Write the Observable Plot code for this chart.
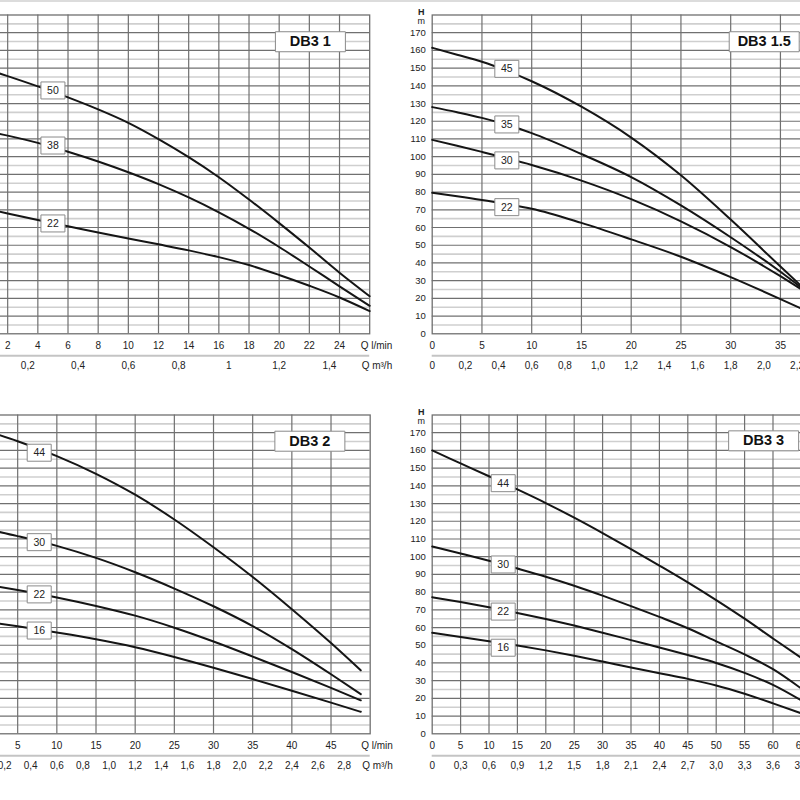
<!DOCTYPE html>
<html><head><meta charset="utf-8">
<script src="https://cdn.jsdelivr.net/npm/d3@7"></script>
<script src="https://cdn.jsdelivr.net/npm/@observablehq/plot@0.6"></script>
<style>
html,body{margin:0;padding:0;background:#fff;}
#page{position:relative;width:800px;height:800px;overflow:hidden;background:#fff;}
.panel{position:absolute;}
#topline{position:absolute;left:0;top:0;width:800px;height:2px;background:#dcdcdc;}
</style></head>
<body><div id="page"><div id="topline"></div></div>
<script>
// ---------- DATA ----------
const hTicks = [0,10,20,30,40,50,60,70,80,90,100,110,120,130,140,150,160,170];

// DB3 1
const db31Q   = [0,2,4,6,8,10,12,14,16,18,20,22,24,26];
const db31H50 = [151,145.5,139.7,133.5,126.7,119.1,109.9,99.7,88.4,75.8,62.5,48.7,34.5,21.2];
const db31H38 = [115.5,111.9,107.8,102.8,97.3,91.2,84.5,77,68.6,59.3,49,38,26.8,15.8];
const db31H22 = [71.7,67.9,64.2,60.7,57.2,53.8,50.5,47.1,43.3,38.8,33.2,27.1,20.5,12.8];
const db31Stages = ["50","38","22"];
const db31LabelQ = 5;
const db31LabelH = [137.4,106.3,62.3];
const db31TicksLmin = [2,4,6,8,10,12,14,16,18,20,22,24];
const db31TicksM3h  = ["0,2","0,4","0,6","0,8","1","1,2","1,4"];

// DB3 1.5
const db315Q   = [0,2.5,5,7.5,10,15,20,25,30,35,37];
const db315H45 = [161.5,157.6,153.6,148.5,142.6,128.2,110.8,89.5,64.5,38,27.5];
const db315H35 = [128,125.1,121.9,118,113.3,101.5,88.5,72.5,54.5,35,26.5];
const db315H30 = [109.5,106.2,102.7,99.1,95.3,86.5,76,63.5,49,32.5,25.5];
const db315H22 = [79.6,77.7,75.6,73.2,70.6,62.6,53.3,43.5,32,19.6,14.5];
const db315Stages = ["45","35","30","22"];
const db315LabelQ = 7.5;
const db315LabelH = [149.6,118.2,97.9,71.5];
const db315TicksLmin = [0,5,10,15,20,25,30,35];
const db315TicksM3h  = ["0","0,2","0,4","0,6","0,8","1,0","1,2","1,4","1,6","1,8","2,0","2,2"];

// DB3 2
const db32Q   = [0,5,10,15,20,25,30,35,40,45,48.8];
const db32H44 = [172.5,165.2,156.8,146.8,135,121,105.3,88.5,70.3,51.2,35.8];
const db32H30 = [116.5,111.6,106.1,99.3,91.2,82,72,60.8,47.8,33.6,22.4];
const db32H22 = [85,81.2,77,72.2,66.7,59.9,52.1,43.6,34.9,25.9,18.9];
const db32H16 = [64,60.7,57.2,53.4,48.9,43.4,37.3,30.9,24.3,17.6,12.4];
const db32Stages = ["44","30","22","16"];
const db32LabelQ = 7.75;
const db32LabelH = [158.7,108.2,78.7,58.3];
const db32TicksLmin = [5,10,15,20,25,30,35,40,45];
const db32TicksM3h  = ["0,2","0,4","0,6","0,8","1,0","1,2","1,4","1,6","1,8","2,0","2,2","2,4","2,6","2,8"];

// DB3 3
const db33Q   = [0,5,10,15,20,25,30,35,40,45,50,55,60,65];
const db33H44 = [160,152.7,145.4,138,130.3,122,113.3,104.3,95,85.5,75.5,65,53.8,42.8];
const db33H30 = [105.8,101.8,97.7,93.3,88.7,83.6,78,72.1,66,59.6,52.2,44.8,36.5,25.5];
const db33H22 = [77.1,74.4,71.4,68.2,64.8,61.1,57.1,52.9,48.7,44.5,40,34.4,27.6,18.8];
const db33H16 = [57,54.7,52.3,49.8,47.1,44.1,40.8,37.4,34.2,31,27.3,22.6,17.2,11.5];
const db33Stages = ["44","30","22","16"];
const db33LabelQ = 12.5;
const db33LabelH = [141.5,95.6,69,48.6];
const db33TicksLmin = [0,5,10,15,20,25,30,35,40,45,50,55,60,65];
const db33TicksM3h  = ["0","0,3","0,6","0,9","1,2","1,5","1,8","2,1","2,4","2,7","3,0","3,3","3,6","3,9"];

// ---------- LAYOUT ----------
const panels = [
  {title:"DB3 1", q:db31Q, curves:[db31H50,db31H38,db31H22], stages:db31Stages, labelQ:db31LabelQ, labelH:db31LabelH,
   lmin:db31TicksLmin, m3h:db31TicksM3h, qMax:26, vStep:2, titleAt:[22.07,164.9], yAxis:false, qTitles:true,
   left:-62.9, top:0, width:472.2, mLeft:40, mRight:40},
  {title:"DB3 1.5", q:db315Q, curves:[db315H45,db315H35,db315H30,db315H22], stages:db315Stages, labelQ:db315LabelQ, labelH:db315LabelH,
   lmin:db315TicksLmin, m3h:db315TicksM3h, qMax:40, vStep:5, titleAt:[33.37,164.9], yAxis:true, qTitles:false,
   left:400, top:0, width:449.7, mLeft:31.7, mRight:20},
  {title:"DB3 2", q:db32Q, curves:[db32H44,db32H30,db32H22,db32H16], stages:db32Stages, labelQ:db32LabelQ, labelH:db32LabelH,
   lmin:db32TicksLmin, m3h:db32TicksM3h, qMax:50, vStep:5, titleAt:[42.3,165.2], yAxis:false, qTitles:true,
   left:-62.4, top:400, width:471.7, mLeft:40, mRight:40},
  {title:"DB3 3", q:db33Q, curves:[db33H44,db33H30,db33H22,db33H16], stages:db33Stages, labelQ:db33LabelQ, labelH:db33LabelH,
   lmin:db33TicksLmin, m3h:db33TicksM3h, qMax:70, vStep:5, titleAt:[58.35,165.4], yAxis:true, qTitles:false,
   left:400, top:400, width:449.3, mLeft:31.7, mRight:20}
];

const stageBox = {draw(ctx){ ctx.rect(-12,-8.5,24,17); }};
const titleBox = {draw(ctx){ ctx.rect(-35,-10,70,20); }};
const FONT = "'Liberation Sans', Arial, Helvetica, sans-serif";
const GRID_DARK = "#707070";
const TXT = "#222";

const page = document.getElementById("page");

for (const p of panels) {
  const lineData = [];
  p.curves.forEach((hs, k) => hs.forEach((h, i) => lineData.push({q: p.q[i], h, s: p.stages[k]})));
  const labelData = p.stages.map((s, k) => ({q: p.labelQ, h: p.labelH[k], s}));
  const vLines = d3.range(p.vStep, p.qMax, p.vStep);
  const hMinor = d3.range(5, 180, 10);
  const hMajor = d3.range(10, 180, 10);
  const toLmin = s => parseFloat(s.replace(",", ".")) * 1000 / 60;

  const marks = [
    Plot.ruleY(hMinor, {stroke: "#cfcfcf", strokeWidth: 1.6}),
    Plot.ruleY(hMajor, {stroke: GRID_DARK, strokeWidth: 1.2}),
    Plot.ruleX(vLines, {stroke: GRID_DARK, strokeWidth: 1.2}),
    Plot.frame({stroke: GRID_DARK, strokeWidth: 1.3}),
    Plot.line(lineData, {x: "q", y: "h", z: "s", curve: "monotone-x", stroke: "#151515", strokeWidth: 2}),
    Plot.dot(labelData, {x: "q", y: "h", symbol: stageBox, r: 5, fill: "white", stroke: "#8a8a8a", strokeWidth: 1}),
    Plot.text(labelData, {x: "q", y: "h", text: "s", fontSize: 10.5, fill: TXT}),
    Plot.dot([p.title], {x: p.titleAt[0], y: p.titleAt[1], symbol: titleBox, r: 5, fill: "white", stroke: "#8a8a8a", strokeWidth: 1}),
    Plot.text([p.title], {x: p.titleAt[0], y: p.titleAt[1], text: d => d, fontSize: 14.5, fontWeight: "bold", fill: "#111"}),
    // x axis (l/min)
    Plot.text(p.lmin, {x: d => d, y: 0, text: d => String(d), dy: 12.2, fontSize: 10, fill: TXT}),
    // separator + second axis (m3/h)
    Plot.ruleY([0], {x1: 0, x2: p.qMax, dy: 22, stroke: "#c4c4c4", strokeWidth: 2}),
    Plot.text(p.m3h, {x: toLmin, y: 0, text: d => d, dy: 32.4, fontSize: 10, fill: TXT})
  ];
  if (p.yAxis) {
    marks.push(
      Plot.text(hTicks, {x: 0, y: d => d, text: d => String(d), dx: -6.5, textAnchor: "end", fontSize: 9.5, fill: TXT}),
      Plot.text(["H"], {x: 0, y: 180, text: d => d, dx: -11, dy: -3, fontSize: 9, fontWeight: "bold", fill: TXT}),
      Plot.text(["m"], {x: 0, y: 180, text: d => d, dx: -11, dy: 6.5, fontSize: 9, fill: TXT})
    );
  }
  if (p.qTitles) {
    marks.push(
      Plot.text(["Q l/min"], {x: p.qMax, y: 0, text: d => d, dx: -9, dy: 12.2, textAnchor: "start", fontSize: 10, fill: TXT}),
      Plot.text(["Q m³/h"], {x: p.qMax, y: 0, text: d => d, dx: -8, dy: 32.4, textAnchor: "start", fontSize: 10, fill: TXT})
    );
  }

  const chart = Plot.plot({
    width: p.width, height: 393.3,
    marginLeft: p.mLeft, marginRight: p.mRight, marginTop: 14.5, marginBottom: 60,
    style: {fontFamily: FONT, background: "transparent", overflow: "visible", maxWidth: "none"},
    x: {domain: [0, p.qMax], axis: null},
    y: {domain: [0, 180], axis: null},
    marks
  });
  const holder = document.createElement("div");
  holder.className = "panel";
  holder.style.left = p.left + "px";
  holder.style.top = p.top + "px";
  holder.appendChild(chart);
  page.appendChild(holder);
}
</script>
</body></html>
